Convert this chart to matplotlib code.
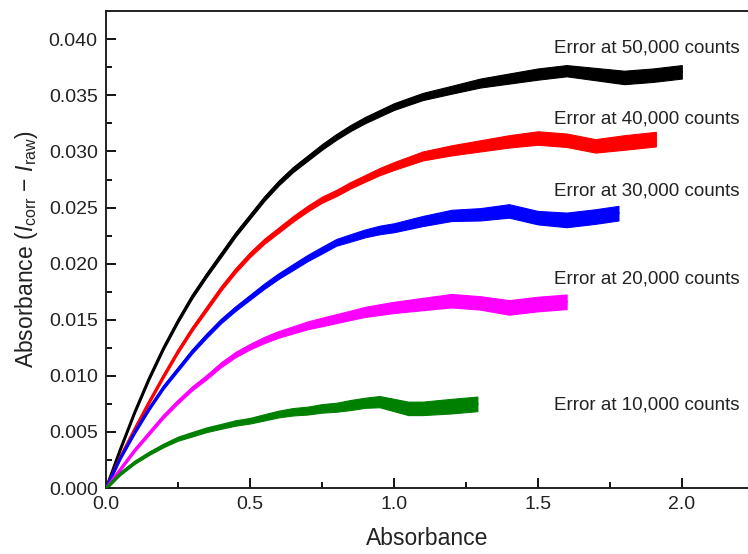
import matplotlib
matplotlib.use("Agg")
import matplotlib.pyplot as plt
import numpy as np
from matplotlib.ticker import MultipleLocator

plt.rcParams['font.family'] = ['Liberation Sans', 'DejaVu Sans']
plt.rcParams['mathtext.fontset'] = 'custom'
plt.rcParams['mathtext.rm'] = 'Liberation Sans'
plt.rcParams['mathtext.it'] = 'Liberation Sans:italic'

# values: band centre (y) and half-width of the scatter (s)
x_50k = [0, 0.05, 0.1, 0.15, 0.2, 0.25, 0.3, 0.35, 0.4, 0.45, 0.5, 0.55, 0.6, 0.65, 0.7,
         0.75, 0.8, 0.85, 0.9, 0.95, 1.0, 1.1, 1.2, 1.3, 1.4, 1.5, 1.6, 1.7, 1.8, 1.9, 2.0]
y_50k = [0, 0.0035, 0.0068, 0.0098, 0.0125, 0.0149, 0.0171, 0.0190, 0.0208, 0.0226, 0.0242,
         0.0258, 0.0272, 0.0284, 0.0294, 0.0304, 0.0313, 0.0321, 0.0328, 0.0334, 0.0340,
         0.0349, 0.0355, 0.0361, 0.0365, 0.0369, 0.0372, 0.0369, 0.0366, 0.0368, 0.0371]
s_50k = [0.00012, 0.00013, 0.00014, 0.00015, 0.00015, 0.00016, 0.00017, 0.00018, 0.0002,
         0.0002, 0.0002, 0.00021, 0.00022, 0.00023, 0.00024, 0.00025, 0.00026, 0.00027,
         0.00028, 0.00029, 0.0003, 0.00032, 0.00035, 0.0004, 0.00045, 0.0005, 0.0005,
         0.00055, 0.0006, 0.0006, 0.0006]

x_40k = [0, 0.05, 0.1, 0.15, 0.2, 0.25, 0.3, 0.35, 0.4, 0.45, 0.5, 0.55, 0.6, 0.65, 0.7,
         0.75, 0.8, 0.85, 0.9, 0.95, 1.0, 1.1, 1.2, 1.3, 1.4, 1.5, 1.6, 1.7, 1.8, 1.91]
y_40k = [0, 0.0028, 0.0053, 0.0077, 0.0100, 0.0122, 0.0142, 0.0160, 0.0178, 0.0194, 0.0208,
         0.0220, 0.0230, 0.0240, 0.0249, 0.0257, 0.0263, 0.0270, 0.0276, 0.0282, 0.0287,
         0.0296, 0.0301, 0.0305, 0.0309, 0.0312, 0.0310, 0.0305, 0.0308, 0.0311]
s_40k = [0.00012, 0.00013, 0.00014, 0.00015, 0.00016, 0.00017, 0.00018, 0.0002, 0.0002,
         0.00021, 0.00022, 0.00023, 0.00024, 0.00025, 0.00026, 0.00027, 0.00028, 0.00029,
         0.0003, 0.00032, 0.00035, 0.0004, 0.00045, 0.0005, 0.00055, 0.0006, 0.0006,
         0.0006, 0.00065, 0.00065]

x_30k = [0, 0.05, 0.1, 0.15, 0.2, 0.25, 0.3, 0.35, 0.4, 0.45, 0.5, 0.55, 0.6, 0.65, 0.7,
         0.75, 0.8, 0.85, 0.9, 0.95, 1.0, 1.1, 1.2, 1.3, 1.4, 1.5, 1.6, 1.7, 1.78]
y_30k = [0, 0.0027, 0.0050, 0.0071, 0.0090, 0.0106, 0.0122, 0.0136, 0.0149, 0.0160, 0.0170,
         0.0180, 0.0189, 0.0197, 0.0205, 0.0212, 0.0219, 0.0223, 0.0227, 0.0230, 0.0232,
         0.0238, 0.0243, 0.0244, 0.0247, 0.0241, 0.0239, 0.0242, 0.0245]
s_30k = [0.00012, 0.00013, 0.00014, 0.00015, 0.00016, 0.00017, 0.00018, 0.0002, 0.0002,
         0.00021, 0.00022, 0.00024, 0.00025, 0.00027, 0.00028, 0.0003, 0.0003, 0.00033,
         0.00035, 0.00038, 0.0004, 0.00045, 0.0005, 0.00055, 0.0006, 0.0006, 0.00065,
         0.00065, 0.00065]

x_20k = [0, 0.05, 0.1, 0.15, 0.2, 0.25, 0.3, 0.35, 0.4, 0.45, 0.5, 0.55, 0.6, 0.65, 0.7,
         0.75, 0.8, 0.85, 0.9, 0.95, 1.0, 1.1, 1.2, 1.3, 1.4, 1.5, 1.6]
y_20k = [0, 0.0017, 0.0034, 0.0049, 0.0064, 0.0077, 0.0089, 0.0099, 0.0110, 0.0119, 0.0126,
         0.0132, 0.0137, 0.0141, 0.0145, 0.0148, 0.0151, 0.0154, 0.0157, 0.0159, 0.0161,
         0.0164, 0.0167, 0.0165, 0.0161, 0.0164, 0.0166]
s_20k = [0.00012, 0.00013, 0.00014, 0.00015, 0.00016, 0.00017, 0.00018, 0.0002, 0.00022,
         0.00024, 0.00025, 0.00028, 0.0003, 0.00032, 0.00035, 0.00038, 0.0004, 0.00042,
         0.00045, 0.00048, 0.0005, 0.00055, 0.0006, 0.0006, 0.00065, 0.00065, 0.00065]

x_10k = [0, 0.05, 0.1, 0.15, 0.2, 0.25, 0.3, 0.35, 0.4, 0.45, 0.5, 0.55, 0.6, 0.65, 0.7,
         0.75, 0.8, 0.85, 0.9, 0.95, 1.0, 1.05, 1.1, 1.2, 1.29]
y_10k = [0, 0.0013, 0.0023, 0.0031, 0.0038, 0.0044, 0.0048, 0.0052, 0.0055, 0.0058, 0.0060,
         0.0063, 0.0066, 0.0068, 0.0069, 0.0071, 0.0072, 0.0074, 0.0076, 0.0077, 0.0074,
         0.0071, 0.0071, 0.0073, 0.0075]
s_10k = [0.00012, 0.00013, 0.00014, 0.00015, 0.00016, 0.00018, 0.0002, 0.00021, 0.00022,
         0.00024, 0.00025, 0.00028, 0.0003, 0.00033, 0.00035, 0.00038, 0.0004, 0.00045,
         0.00045, 0.0005, 0.00055, 0.0006, 0.0006, 0.00065, 0.00065]

labels = ['Error at 50,000 counts', 'Error at 40,000 counts', 'Error at 30,000 counts',
          'Error at 20,000 counts', 'Error at 10,000 counts']
label_y = [0.0392, 0.0329, 0.0265, 0.0186, 0.0074]
colors = ['black', 'red', 'blue', 'magenta', 'green']

series = [(x_50k, y_50k, s_50k), (x_40k, y_40k, s_40k), (x_30k, y_30k, s_30k),
          (x_20k, y_20k, s_20k), (x_10k, y_10k, s_10k)]

fig = plt.figure(figsize=(7.48, 5.54), dpi=100)
ax = fig.add_axes([0.1417, 0.1191, 0.8583, 0.8610])

for (xs, ys, ss), c in zip(series, colors):
    xs = np.array(xs)
    ys = np.array(ys)
    ss = np.array(ss)
    ax.fill_between(xs, ys - ss, ys + ss, color=c, lw=0.8, zorder=2)
    ax.plot(xs, ys, color=c, lw=1.8, zorder=3, solid_capstyle='round')

for lab, ly in zip(labels, label_y):
    ax.text(1.556, ly, lab, fontsize=13.5, color='#222222', va='center', ha='left')

ax.set_xlim(0, 2.23)
ax.set_ylim(0, 0.04252)
ax.xaxis.set_major_locator(MultipleLocator(0.5))
ax.xaxis.set_minor_locator(MultipleLocator(0.25))
ax.yaxis.set_major_locator(MultipleLocator(0.005))
ax.yaxis.set_minor_locator(MultipleLocator(0.0025))
ax.xaxis.set_major_formatter(plt.FormatStrFormatter('%.1f'))
ax.yaxis.set_major_formatter(plt.FormatStrFormatter('%.3f'))

ax.tick_params(which='major', direction='in', length=7, width=1.3, labelsize=14,
               labelcolor='#222222', pad=6)
ax.tick_params(which='minor', direction='in', length=4.5, width=1.3)
ax.spines['right'].set_visible(False)
for sp in ['left', 'bottom', 'top']:
    ax.spines[sp].set_linewidth(1.4)
    ax.spines[sp].set_color('#222222')

ax.set_xlabel('Absorbance', fontsize=16.5, color='#222222', labelpad=10)
ax.set_ylabel(r'Absorbance ($I_{\mathrm{corr}}$ $-$ $I_{\mathrm{raw}}$)', fontsize=16.5,
              color='#222222', labelpad=6)

fig.savefig('out.png', dpi=100)
